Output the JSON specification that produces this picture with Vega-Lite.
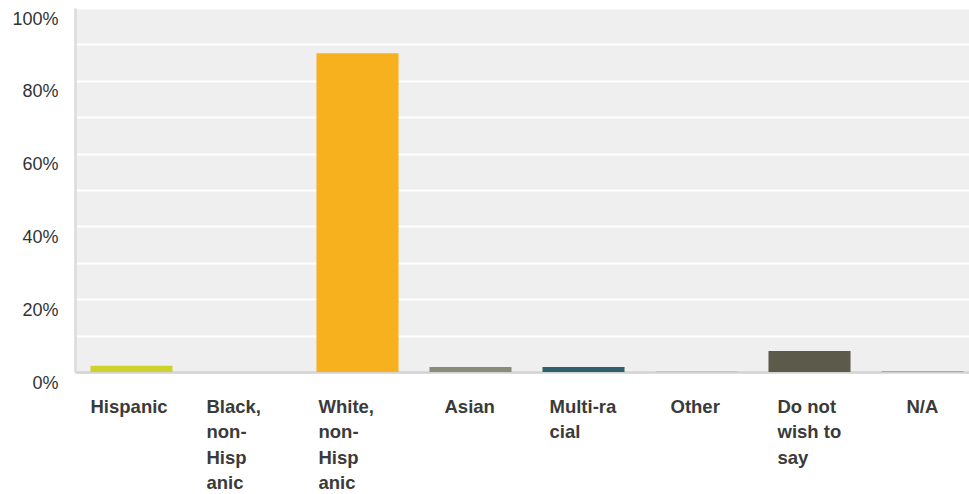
{
  "$schema": "https://vega.github.io/schema/vega-lite/v6.json",
  "autosize": "none",
  "padding": {"left": 75, "top": 8, "right": 0, "bottom": 122},
  "width": 894,
  "height": 364,
  "background": "#ffffff",
  "config": {
    "view": {"fill": "#efefef", "stroke": null},
    "font": "Liberation Sans"
  },
  "data": {
    "values": [
      {"group": "Hispanic", "share": 0.017},
      {"group": "Black, non-Hispanic", "share": 0.0},
      {"group": "White, non-Hispanic", "share": 0.876},
      {"group": "Asian", "share": 0.014},
      {"group": "Multi-racial", "share": 0.014},
      {"group": "Other", "share": 0.003},
      {"group": "Do not wish to say", "share": 0.058},
      {"group": "N/A", "share": 0.003}
    ]
  },
  "mark": {"type": "bar"},
  "encoding": {
    "x": {
      "field": "group",
      "type": "nominal",
      "sort": null,
      "title": null,
      "scale": {"range": [0, 904], "paddingInner": 0.274, "paddingOuter": 0.137},
      "axis": {
        "labelAngle": 0,
        "labelAlign": "left",
        "labelBaseline": "top",
        "labelFontWeight": "bold",
        "labelFontSize": 18.5,
        "labelColor": "#3a3a3a",
        "labelLineHeight": 25.5,
        "labelLimit": 0,
        "labelOverlap": false,
        "labelBound": false,
        "labelPadding": 25,
        "ticks": false,
        "domainColor": "#d2d2d2",
        "domainWidth": 2.5,
        "labelExpr": "datum.value == 'Black, non-Hispanic' ? ['Black,', 'non-', 'Hisp', 'anic'] : datum.value == 'White, non-Hispanic' ? ['White,', 'non-', 'Hisp', 'anic'] : datum.value == 'Multi-racial' ? ['Multi-ra', 'cial'] : datum.value == 'Do not wish to say' ? ['Do not', 'wish to', 'say'] : datum.value",
        "labelOffset": {
          "condition": [
            {"test": "datum.value == 'Hispanic'", "value": -41},
            {"test": "datum.value == 'Black, non-Hispanic'", "value": -38},
            {"test": "datum.value == 'White, non-Hispanic'", "value": -39},
            {"test": "datum.value == 'Asian'", "value": -26},
            {"test": "datum.value == 'Multi-racial'", "value": -34},
            {"test": "datum.value == 'Other'", "value": -26},
            {"test": "datum.value == 'Do not wish to say'", "value": -32}
          ],
          "value": -16
        }
      }
    },
    "y": {
      "field": "share",
      "type": "quantitative",
      "title": null,
      "scale": {"domain": [0, 1], "nice": false},
      "axis": {
        "values": [0, 0.1, 0.2, 0.3, 0.4, 0.5, 0.6, 0.7, 0.8, 0.9, 1],
        "labelExpr": "round(datum.value * 10) % 2 == 0 ? format(datum.value, '.0%') : ''",
        "labelFontSize": 18,
        "labelColor": "#333333",
        "labelPadding": 17,
        "labelOffset": 11,
        "ticks": false,
        "grid": true,
        "gridColor": "#ffffff",
        "gridWidth": 2,
        "domainColor": "#dcdcdc",
        "domainWidth": 2.6
      }
    },
    "color": {
      "field": "group",
      "type": "nominal",
      "legend": null,
      "scale": {
        "domain": ["Hispanic", "Black, non-Hispanic", "White, non-Hispanic", "Asian", "Multi-racial", "Other", "Do not wish to say", "N/A"],
        "range": ["#cdd32b", "#3b6e8f", "#f7b11e", "#8b8b7a", "#2d5f6d", "#c9c9b5", "#5c5a4b", "#a9b94b"]
      }
    }
  }
}
